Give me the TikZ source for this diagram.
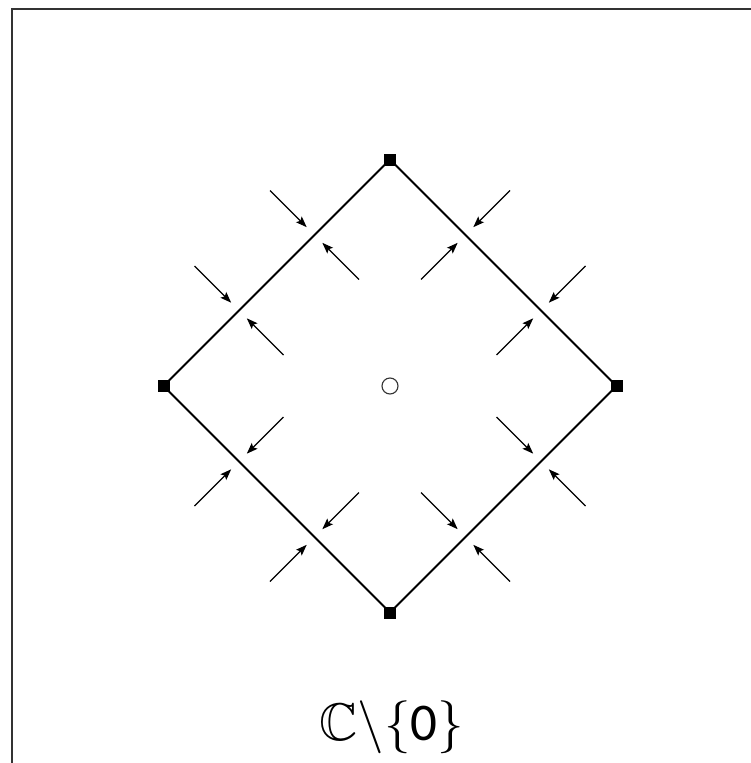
\documentclass[tikz,border=0pt]{standalone}
\usepackage{amssymb}
\usepackage{graphicx}
\usepackage{fontspec}
\newfontfamily\digitfont{Carlito}
\usetikzlibrary{calc,arrows.meta}
\tikzset{
  vtx/.style={rectangle,fill=black,draw=none,minimum size=12pt,inner sep=0pt},
  hole/.style={circle,draw=black!80,line width=1.1pt,minimum size=16pt,inner sep=0pt},
  edgeline/.style={line width=2pt,black},
  arr/.style={line width=1.3pt,-{Stealth[length=11pt,width=8pt,inset=2pt]}},
  frame/.style={line width=1.8pt,black!80},
  lbl/.style={font=\fontsize{10}{12}\selectfont,inner sep=0pt}
}
\begin{document}
\begin{tikzpicture}[x=1pt,y=-1pt]
\useasboundingbox (0,0) rectangle (751,763);
\coordinate (fc) at (12,9);
\coordinate (fr) at (751,9);
\coordinate (fb) at (12,763);
\draw[frame] (fr) -- (fc) -- (fb);
\node[vtx] (T) at (390,159.5) {};
\node[vtx] (R) at (616.5,386) {};
\node[vtx] (B) at (390,612.5) {};
\node[vtx] (L) at (163.5,386) {};
\node[hole] (O) at (390,386) {};
\draw[edgeline] (L.center) -- (T.center) -- (R.center) -- (B.center) -- cycle;
\foreach \a/\b/\nx/\ny in {L/T/-1/-1, T/R/1/-1, R/B/1/1, B/L/-1/1}{
  \foreach \t in {0.3333,0.6667}{
    \coordinate (p) at ($(\a)!\t!(\b)$);
    \coordinate (po1) at ($(p)+(\nx*44.5,\ny*44.5)$);
    \coordinate (po2) at ($(p)+(\nx*7.8,\ny*7.8)$);
    \coordinate (pi1) at ($(p)-(\nx*44.5,\ny*44.5)$);
    \coordinate (pi2) at ($(p)-(\nx*7.8,\ny*7.8)$);
    \draw[arr] (po1) -- (po2);
    \draw[arr] (pi1) -- (pi2);
  }
}
\node[lbl,anchor=base] (label) at (392,740) {\scalebox{5.3}{$\mathbb{C}\backslash\{\mbox{\digitfont 0}\}$}};
\end{tikzpicture}
\end{document}
